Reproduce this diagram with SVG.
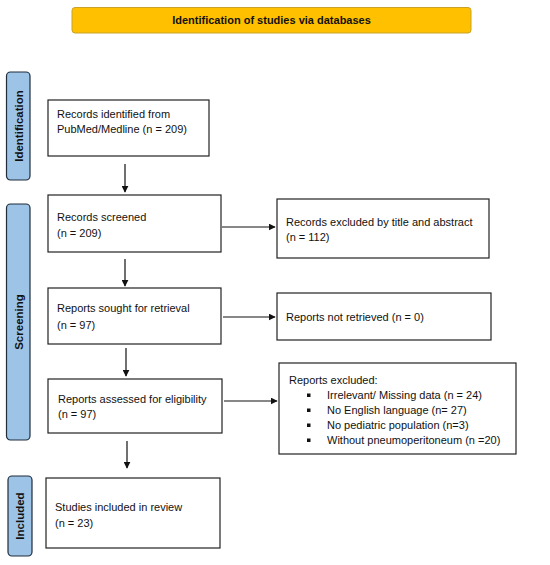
<svg xmlns="http://www.w3.org/2000/svg" width="550" height="565" viewBox="0 0 550 565">
<defs>
<style>
.box{fill:#fff;stroke:#222;stroke-width:1.2}
.side{fill:#9DC3E6;stroke:#1f2d3d;stroke-width:1.2}
.t{font-family:"Liberation Sans",Arial,sans-serif;font-size:11px;fill:#111}
.sl{font-family:"Liberation Sans",Arial,sans-serif;font-size:11.5px;font-weight:bold;fill:#111;text-anchor:middle}
.bul{fill:#111}
.con{stroke:#111;stroke-width:1.2;fill:none;marker-end:url(#ah)}
</style>
<marker id="ah" viewBox="0 0 10 10" refX="9" refY="5" markerWidth="7" markerHeight="7" markerUnits="userSpaceOnUse" orient="auto">
<path d="M0,0 L10,5 L0,10 z" fill="#111"/>
</marker>
</defs>
<rect width="550" height="565" fill="#fff"/>

<g id="title">
<rect x="72" y="7.5" width="399" height="25.5" rx="3" fill="#FFC000" stroke="#C9A227" stroke-width="1"/>
<text x="271.5" y="24" class="t" style="font-weight:bold;text-anchor:middle">Identification of studies via databases</text>
</g>

<g id="side-identification">
<rect x="6.5" y="72" width="23.5" height="108" rx="4" class="side"/>
<text class="sl" transform="translate(22.5,126) rotate(-90)">Identification</text>
</g>
<g id="side-screening">
<rect x="6.5" y="204" width="23.5" height="236" rx="4" class="side"/>
<text class="sl" transform="translate(22.5,322) rotate(-90)">Screening</text>
</g>
<g id="side-included">
<rect x="8" y="476" width="24" height="80" rx="4" class="side"/>
<text class="sl" transform="translate(24,516) rotate(-90)">Included</text>
</g>

<g id="n-identified">
<rect x="48" y="100" width="161" height="56" class="box"/>
<text class="t" x="57" y="118">Records identified from</text>
<text class="t" x="57" y="133">PubMed/Medline (n = 209)</text>
</g>

<g id="n-screened">
<rect x="48" y="195" width="173" height="57" class="box"/>
<text class="t" x="57" y="221">Records screened</text>
<text class="t" x="57" y="237">(n = 209)</text>
</g>

<g id="n-excluded-title">
<rect x="277" y="199" width="212" height="59" class="box"/>
<text class="t" x="286" y="226">Records excluded by title and abstract</text>
<text class="t" x="286" y="241">(n = 112)</text>
</g>

<g id="n-sought">
<rect x="48" y="288" width="173" height="56" class="box"/>
<text class="t" x="57" y="312">Reports sought for retrieval</text>
<text class="t" x="57" y="329">(n = 97)</text>
</g>

<g id="n-not-retrieved">
<rect x="277" y="293" width="214" height="47" class="box"/>
<text class="t" x="286" y="321">Reports not retrieved (n = 0)</text>
</g>

<g id="n-assessed">
<rect x="48" y="379" width="174" height="54" class="box"/>
<text class="t" x="58" y="403">Reports assessed for eligibility</text>
<text class="t" x="58" y="418">(n = 97)</text>
</g>

<g id="n-excluded-reports">
<rect x="279" y="363" width="237" height="91" class="box"/>
<text class="t" x="289" y="384">Reports excluded:</text>
<rect x="307" y="393.5" width="3.5" height="3.5" class="bul"/>
<text class="t" x="327" y="399">Irrelevant/ Missing data (n = 24)</text>
<rect x="307" y="408.5" width="3.5" height="3.5" class="bul"/>
<text class="t" x="327" y="414">No English language (n= 27)</text>
<rect x="307" y="423.5" width="3.5" height="3.5" class="bul"/>
<text class="t" x="327" y="429">No pediatric population (n=3)</text>
<rect x="307" y="438.5" width="3.5" height="3.5" class="bul"/>
<text class="t" x="327" y="444">Without pneumoperitoneum (n =20)</text>
</g>

<g id="n-included">
<rect x="46" y="478" width="174" height="70" class="box"/>
<text class="t" x="55" y="511">Studies included in review</text>
<text class="t" x="55" y="527">(n = 23)</text>
</g>

<g id="connectors">
<line x1="125" y1="164" x2="125" y2="192" class="con"/>
<line x1="125" y1="259" x2="125" y2="286" class="con"/>
<line x1="126" y1="348" x2="126" y2="376" class="con"/>
<line x1="127" y1="441" x2="127" y2="468" class="con"/>
<line x1="222" y1="227" x2="275" y2="227" class="con"/>
<line x1="223" y1="317" x2="275" y2="317" class="con"/>
<line x1="224" y1="401" x2="277" y2="401" class="con"/>
</g>
</svg>
